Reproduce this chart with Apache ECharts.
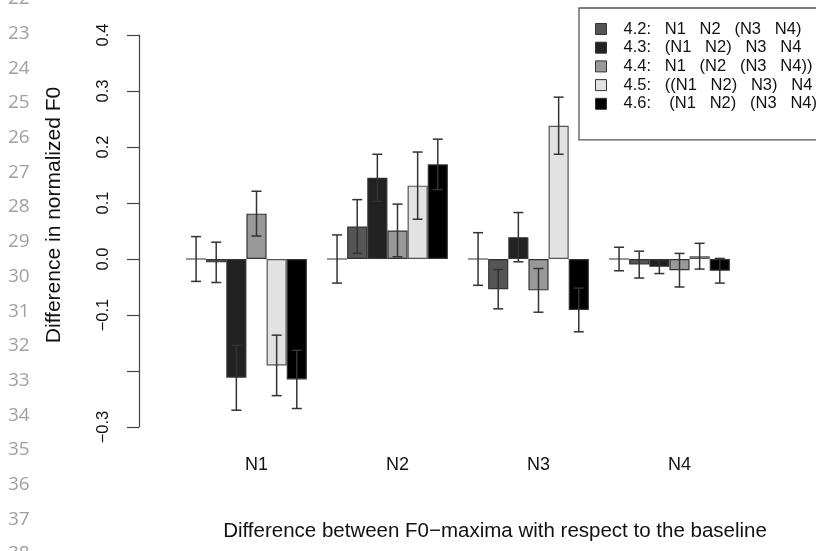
<!DOCTYPE html>
<html>
<head>
<meta charset="utf-8">
<script src="https://cdn.jsdelivr.net/npm/echarts@6/dist/echarts.min.js"></script>
<style>html,body{margin:0;padding:0;background:#fff}#c{width:816px;height:551px}</style>
</head>
<body>
<div id="c"></div>
<script>
const categories = ['N1', 'N2', 'N3', 'N4'];
const seriesNames = ['4.2:   N1   N2   (N3   N4)', '4.3:   (N1   N2)   N3   N4', '4.4:   N1   (N2   (N3   N4))', '4.5:   ((N1   N2)   N3)   N4', '4.6:    (N1   N2)   (N3   N4)'];
const baselineValues = [0, 0, 0, 0];
const baselineErr = [0.040, 0.043, 0.047, 0.021];
const v42 = [-0.006, 0.058, -0.054, -0.010];
const e42 = [0.036, 0.048, 0.035, 0.024];
const v43 = [-0.212, 0.145, 0.039, -0.014];
const e43 = [0.058, 0.042, 0.044, 0.012];
const v44 = [0.081, 0.051, -0.056, -0.020];
const e44 = [0.040, 0.047, 0.039, 0.030];
const v45 = [-0.190, 0.131, 0.238, 0.005];
const e45 = [0.054, 0.060, 0.051, 0.023];
const v46 = [-0.215, 0.169, -0.091, -0.021];
const e46 = [0.052, 0.045, 0.039, 0.022];
const yTicks = [-0.3, -0.2, -0.1, 0.0, 0.1, 0.2, 0.3, 0.4];
const hiddenTickLabels = [-0.2];
const lineNumbers = [22, 23, 24, 25, 26, 27, 28, 29, 30, 31, 32, 33, 34, 35, 36, 37, 38];

const colors = ['#555555', '#222222', '#999999', '#e2e2e2', '#000000'];
const values = [v42, v43, v44, v45, v46];
const errs = [e42, e43, e44, e45, e46];
const SLOTS = 7;

const allValues = [baselineValues].concat(values);
const allErrs = [baselineErr].concat(errs);
const errData = [];
allValues.forEach((vals, s) => {
  vals.forEach((v, i) => errData.push([i, v, allErrs[s][i], s]));
});

const font = '"Liberation Sans", Arial, Helvetica, sans-serif';

const series = [];
series.push({
  type: 'bar', name: 'baseline', data: baselineValues,
  barGap: 0, barCategoryGap: 0,
  itemStyle: { color: '#ffffff', borderColor: '#333', borderWidth: 1.2 },
  silent: true, z: 2
});
values.forEach((vals, s) => {
  series.push({
    type: 'bar', name: seriesNames[s], data: vals,
    barGap: 0, barCategoryGap: 0,
    itemStyle: { color: colors[s], borderColor: s === 3 ? '#555' : '#333', borderWidth: 1.2 },
    silent: true, z: 2
  });
});
series.push({
  type: 'bar', name: 'spacer', data: categories.map(() => '-'),
  barGap: 0, barCategoryGap: 0, silent: true
});
series.push({
  type: 'custom', name: 'errors', data: errData, z: 5, silent: true,
  renderItem: function (params, api) {
    const cat = api.value(0), v = api.value(1), e = api.value(2), slot = api.value(3);
    const band = api.size([1, 0])[0];
    const slotW = band / SLOTS;
    const c = api.coord([cat, v]);
    const x = c[0] + (slot - (SLOTS - 1) / 2) * slotW;
    const yt = api.coord([cat, v + e])[1];
    const yb = api.coord([cat, v - e])[1];
    const cap = 5;
    const st = { stroke: '#333', lineWidth: 1.5 };
    return {
      type: 'group',
      children: [
        { type: 'line', shape: { x1: x, y1: yt, x2: x, y2: yb }, style: st },
        { type: 'line', shape: { x1: x - cap, y1: yt, x2: x + cap, y2: yt }, style: st },
        { type: 'line', shape: { x1: x - cap, y1: yb, x2: x + cap, y2: yb }, style: st }
      ]
    };
  }
});

const graphics = lineNumbers.map(n => ({
  type: 'text', left: 8, top: 35 + (n - 23) * 34.7 - 11,
  style: { text: String(n), font: '19px "Open Sans", "DejaVu Sans", sans-serif', fill: '#a0a0a0' },
  silent: true
}));
graphics.push({
  type: 'text', x: 495, y: 531,
  style: { text: 'Difference between F0\u2212maxima with respect to the baseline', font: '20.5px ' + font, fill: '#111', align: 'center', verticalAlign: 'middle' },
  silent: true
});

const chart = echarts.init(document.getElementById('c'), null, { renderer: 'canvas' });
chart.setOption({
  animation: false,
  backgroundColor: '#fff',
  grid: { left: 186, right: 66, top: 35, bottom: 124, containLabel: false },
  xAxis: {
    type: 'category', data: categories,
    axisLine: { show: false }, axisTick: { show: false },
    axisLabel: { margin: 29, fontSize: 18, fontFamily: font, color: '#111' }
  },
  yAxis: {
    type: 'value', min: yTicks[0], max: yTicks[yTicks.length - 1], interval: 0.1,
    offset: 47,
    name: 'Difference in normalized F0', nameLocation: 'middle', nameGap: 74,
    nameTextStyle: { fontSize: 21, fontFamily: font, color: '#111', padding: [0, 0, 0, 32] },
    axisLine: { show: true, lineStyle: { color: '#444', width: 1.2 } },
    axisTick: { show: true, length: 12, lineStyle: { color: '#444', width: 1.2 } },
    splitLine: { show: false },
    axisLabel: {
      rotate: 90, margin: 27, fontSize: 16.5, fontFamily: font, color: '#111',
      formatter: function (v) {
        const r = Math.round(v * 10) / 10;
        if (hiddenTickLabels.some(h => Math.abs(h - r) < 1e-9)) return '';
        return r.toFixed(1).replace('-', '\u2212');
      }
    }
  },
  legend: {
    data: seriesNames, orient: 'vertical', left: 579, top: 8,
    padding: [12.5, 10, 27.5, 16],
    itemWidth: 11, itemHeight: 11, itemGap: 1.7, icon: 'rect',
    backgroundColor: '#fff', borderColor: '#555', borderWidth: 1.3,
    itemStyle: { borderColor: '#333', borderWidth: 1 },
    textStyle: { fontSize: 16.5, lineHeight: 15, fontFamily: font, color: '#111', padding: [0, 0, 0, 12] },
    selectedMode: false
  },
  graphic: graphics,
  series: series
});
</script>
</body>
</html>
